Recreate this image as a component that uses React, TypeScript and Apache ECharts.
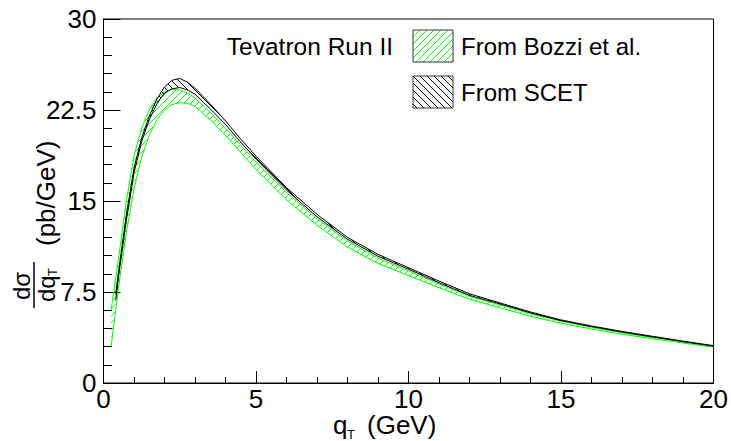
import React, { useEffect, useRef } from 'react';
import * as echarts from 'echarts';

// ---- data ----
const qBozzi = [0.25, 0.5, 0.75, 1, 1.25, 1.5, 1.75, 2, 2.25, 2.5, 2.75, 3, 3.5, 4, 4.5, 5, 6, 7, 8, 9, 10, 11, 12, 13, 14, 15, 16, 17, 18, 19, 20];
const bozziLow = [3.0, 8.0, 12.4, 16.0, 18.6, 20.4, 21.7, 22.5, 22.95, 23.1, 23.05, 22.8, 21.7, 20.4, 19.0, 17.6, 15.1, 13.0, 11.2, 9.85, 8.85, 7.85, 6.9, 6.2, 5.5, 4.92, 4.45, 4.02, 3.65, 3.3, 2.95];
const bozziHigh = [6.0, 10.4, 15.0, 18.7, 21.0, 22.5, 23.5, 24.0, 24.2, 24.15, 23.9, 23.5, 22.3, 21.0, 19.6, 18.2, 15.7, 13.55, 11.7, 10.3, 9.25, 8.17, 7.15, 6.45, 5.72, 5.1, 4.6, 4.15, 3.76, 3.38, 3.02];

const qScet = [0.4, 0.5, 0.75, 1, 1.25, 1.5, 1.75, 2, 2.25, 2.5, 2.75, 3, 3.5, 4, 4.5, 5, 6, 7, 8, 9, 10, 11, 12, 13, 14, 15, 16, 17, 18, 19, 20];
const scetLow = [6.8, 8.9, 13.4, 17.3, 19.9, 21.7, 23.0, 23.9, 24.25, 24.35, 24.15, 23.8, 22.6, 21.3, 19.85, 18.45, 15.9, 13.7, 11.85, 10.45, 9.38, 8.27, 7.22, 6.52, 5.78, 5.14, 4.65, 4.2, 3.8, 3.41, 3.04];
const scetHigh = [7.3, 9.3, 13.9, 17.7, 20.2, 22.0, 23.4, 24.4, 24.95, 25.1, 24.8, 24.3, 23.0, 21.6, 20.1, 18.7, 16.1, 13.9, 12.0, 10.6, 9.5, 8.4, 7.35, 6.6, 5.85, 5.2, 4.7, 4.25, 3.85, 3.45, 3.08];

const xTicks = [0, 5, 10, 15, 20];
const yTicks = [0, 7.5, 15, 22.5, 30];

const legendTitle = 'Tevatron Run II';
const legendNames = ['From Bozzi et al.', 'From SCET'];

const FONT = "'Liberation Sans', Arial, Helvetica, sans-serif";
const GREEN = '#00ff00';

function makeHatch(color: string, dir: 'up' | 'down', s: number) {
  const c = document.createElement('canvas');
  c.width = s;
  c.height = s;
  const ctx = c.getContext('2d')!;
  ctx.strokeStyle = color;
  ctx.lineWidth = 1;
  ctx.beginPath();
  if (dir === 'up') {
    ctx.moveTo(0, s); ctx.lineTo(s, 0);
    ctx.moveTo(-1, 1); ctx.lineTo(1, -1);
    ctx.moveTo(s - 1, s + 1); ctx.lineTo(s + 1, s - 1);
  } else {
    ctx.moveTo(0, 0); ctx.lineTo(s, s);
    ctx.moveTo(s - 1, -1); ctx.lineTo(s + 1, 1);
    ctx.moveTo(-1, s - 1); ctx.lineTo(1, s + 1);
  }
  ctx.stroke();
  return { image: c, repeat: 'repeat', imageWidth: s, imageHeight: s };
}

function bandSeries(qs: number[], lo: number[], hi: number[], fill: any, edge: string, z: number) {
  return {
    type: 'custom',
    coordinateSystem: 'cartesian2d',
    data: qs.map((q, i) => [q, lo[i], hi[i]]),
    encode: { x: 0, y: [1, 2] },
    silent: true,
    z,
    renderItem: (params: any, api: any) => {
      if (params.dataIndex !== 0) return null;
      const top = qs.map((q, i) => api.coord([q, hi[i]]));
      const bot = qs.map((q, i) => api.coord([q, lo[i]]));
      return {
        type: 'group',
        children: [
          { type: 'polygon', shape: { points: top.concat(bot.slice().reverse()) }, style: { fill, stroke: null } },
          { type: 'polyline', shape: { points: top }, style: { stroke: edge, lineWidth: 1, fill: null } },
          { type: 'polyline', shape: { points: bot }, style: { stroke: edge, lineWidth: 1, fill: null } },
        ],
      };
    },
  };
}

export default function App() {
  const ref = useRef<HTMLDivElement>(null);
  useEffect(() => {
    const chart = echarts.init(ref.current!, null, { renderer: 'svg' });
    const greenPat = makeHatch(GREEN, 'up', 7);
    const blackPat = makeHatch('#000', 'down', 7);
    const greenPatL = makeHatch(GREEN, 'up', 7);
    const blackPatL = makeHatch('#000', 'down', 7);

    const tickFont = { fontFamily: FONT, fontSize: 26, color: '#000', lineHeight: 22 };
    const t = (text: string, x: number, y: number, size: number, lh: number) => ({
      type: 'text', x, y, z: 10,
      style: { text, font: `${size}px ${FONT}`, fill: '#000', textVerticalAlign: 'bottom', lineHeight: lh },
    });

    const option: any = {
      animation: false,
      backgroundColor: '#fff',
      grid: { left: 103.5, right: 17, top: 19, bottom: 58, show: true, borderColor: '#000', borderWidth: 1, backgroundColor: 'transparent' },
      xAxis: {
        type: 'value', min: xTicks[0], max: xTicks[xTicks.length - 1], interval: 5,
        axisLine: { show: true, lineStyle: { color: '#000', width: 1 } },
        axisTick: { show: true, inside: true, length: 12, lineStyle: { color: '#000' } },
        minorTick: { show: true, splitNumber: 5, length: 6, lineStyle: { color: '#000' } },
        splitLine: { show: false },
        axisLabel: { ...tickFont, margin: 5 },
      },
      yAxis: {
        type: 'value', min: yTicks[0], max: yTicks[yTicks.length - 1], interval: 7.5,
        axisLine: { show: true, lineStyle: { color: '#000', width: 1 } },
        axisTick: { show: true, inside: true, length: 17, lineStyle: { color: '#000' } },
        minorTick: { show: true, splitNumber: 5, length: 8.5, lineStyle: { color: '#000' } },
        splitLine: { show: false },
        axisLabel: { ...tickFont, margin: 7, formatter: (v: number) => String(v) },
      },
      series: [
        bandSeries(qBozzi, bozziLow, bozziHigh, greenPat, GREEN, 2),
        bandSeries(qScet, scetLow, scetHigh, blackPat, '#000', 3),
      ],
      graphic: [
        // x-axis title
        t('q', 333, 436, 26, 22),
        t('T', 347, 441, 13, 13),
        t('(GeV)', 367, 436, 26, 22),
        // y-axis title (rotated)
        {
          type: 'group', x: 34, y: 308, rotation: Math.PI / 2, z: 10,
          children: [
            { type: 'text', x: 22, y: -1, style: { text: 'dσ', font: `24px ${FONT}`, fill: '#000', textAlign: 'center', textVerticalAlign: 'bottom' } },
            { type: 'line', shape: { x1: 0, y1: 0, x2: 46, y2: 0 }, style: { stroke: '#000', lineWidth: 1.5 } },
            { type: 'text', x: 6, y: 0, style: { text: 'dq', font: `24px ${FONT}`, fill: '#000', textAlign: 'left', textVerticalAlign: 'top' } },
            { type: 'text', x: 32, y: 12, style: { text: 'T', font: `13px ${FONT}`, fill: '#000', textAlign: 'left', textVerticalAlign: 'top' } },
            { type: 'text', x: 62, y: 12, style: { text: '(pb/GeV)', font: `26px ${FONT}`, fill: '#000', textAlign: 'left', textVerticalAlign: 'middle' } },
          ],
        },
        // legend
        { type: 'text', x: 393, y: 46, z: 10, style: { text: legendTitle, font: `24.5px ${FONT}`, fill: '#000', textAlign: 'right', textVerticalAlign: 'middle' } },
        { type: 'rect', x: 413, y: 30, shape: { width: 40, height: 32 }, z: 10, style: { fill: greenPatL, stroke: '#333', lineWidth: 1 } },
        { type: 'text', x: 461, y: 46, z: 10, style: { text: legendNames[0], font: `24px ${FONT}`, fill: '#000', textAlign: 'left', textVerticalAlign: 'middle' } },
        { type: 'rect', x: 413, y: 76, shape: { width: 40, height: 32 }, z: 10, style: { fill: blackPatL, stroke: '#333', lineWidth: 1 } },
        { type: 'text', x: 461, y: 92, z: 10, style: { text: legendNames[1], font: `24px ${FONT}`, fill: '#000', textAlign: 'left', textVerticalAlign: 'middle' } },
      ],
    };
    chart.setOption(option);
    return () => chart.dispose();
  }, []);
  return <div ref={ref} style={{ position: 'absolute', left: 0, top: 0, width: 731, height: 441 }} />;
}
